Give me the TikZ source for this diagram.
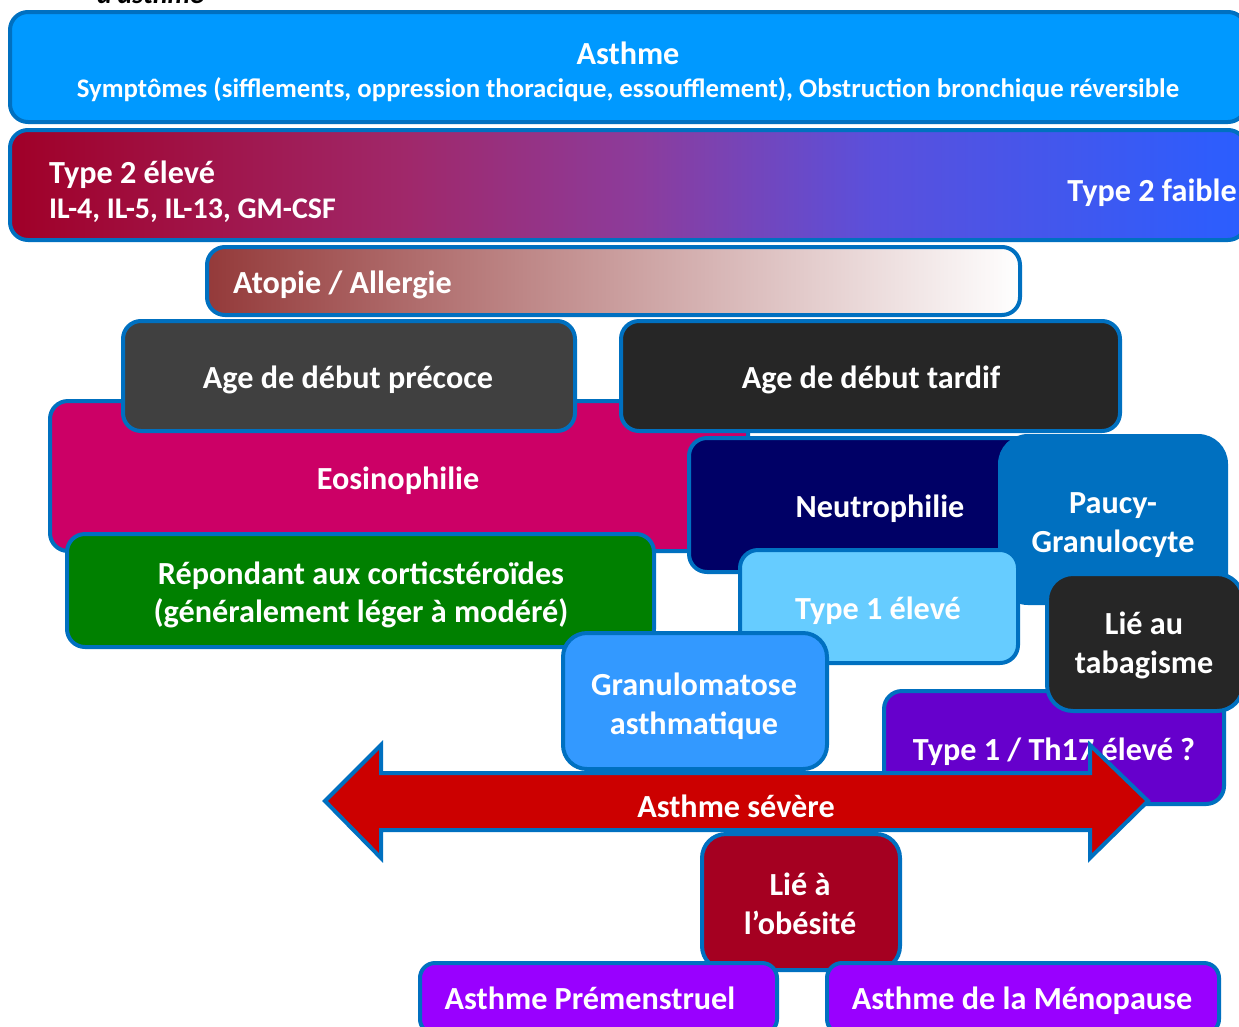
\documentclass[tikz,border=0pt]{standalone}
\usepackage{fontspec}
\setmainfont{Carlito}
\definecolor{bordc}{HTML}{0070C0}
\definecolor{casthme}{HTML}{0099FF}
\definecolor{tIIa}{HTML}{A00028}
\definecolor{tIIb}{HTML}{A0286A}
\definecolor{tIIc}{HTML}{8C3C9C}
\definecolor{tIId}{HTML}{5A50DC}
\definecolor{tIIe}{HTML}{2A5EFF}
\definecolor{atopa}{HTML}{943A3A}
\definecolor{cprecoce}{HTML}{404040}
\definecolor{ctardif}{HTML}{262626}
\definecolor{ceos}{HTML}{CC0066}
\definecolor{cneutro}{HTML}{000066}
\definecolor{cpaucy}{HTML}{0070C0}
\definecolor{crepond}{HTML}{008000}
\definecolor{ctypeI}{HTML}{66CCFF}
\definecolor{ctabac}{HTML}{262626}
\definecolor{cgranulo}{HTML}{3399FF}
\definecolor{cthxvii}{HTML}{6600CC}
\definecolor{carrow}{HTML}{CC0000}
\definecolor{cobes}{HTML}{A50021}
\definecolor{cviolet}{HTML}{9900FF}
\pgfdeclarehorizontalshading{typeIIshade}{100bp}{color(0bp)=(tIIa); color(25bp)=(tIIa); color(41bp)=(tIIb); color(50.5bp)=(tIIc); color(60bp)=(tIId); color(75bp)=(tIIe); color(100bp)=(tIIe)}
\begin{document}
\begin{tikzpicture}[x=1pt,y=-1pt,
  boxst/.style={draw=bordc, line width=4pt, rounded corners=18pt, inner sep=0pt},
  lbl/.style={text=white, inner sep=0pt, anchor=base, font=\bfseries\fontsize{32.2}{39}\selectfont},
  arrowst/.style={draw=bordc, line width=4pt, line join=miter, fill=carrow}]
\useasboundingbox (0,0) rectangle (1239,1026);
\node[inner sep=0pt, anchor=base west, font=\bfseries\itshape\fontsize{28}{32}\selectfont] (ttop) at (97,3) {d’asthme};
% Asthme
\node[boxst, fill=casthme, minimum width=1236pt, minimum height=110pt] (asthme) at (628,67) {};
\node[lbl] (tasthme) at (628,64) {Asthme};
\node[lbl, font=\bfseries\fontsize{26.8}{30}\selectfont] (tsympt) at (628,97) {Symptômes (sifflements, oppression thoracique, essoufflement), Obstruction bronchique réversible};
% Type 2
\node[boxst, shading=typeIIshade, shading angle=0, minimum width=1236pt, minimum height=110pt] (typeII) at (628,185) {};
\node[lbl, anchor=base west] (ttIIe) at (49,183) {Type 2 élevé};
\node[lbl, anchor=base west, font=\bfseries\fontsize{30}{34}\selectfont] (til) at (49,218) {IL-4, IL-5, IL-13, GM-CSF};
\node[lbl, anchor=base east] (ttIIf) at (1237,201) {Type 2 faible};
% Atopie
\node[boxst, left color=atopa, right color=white, minimum width=813pt, minimum height=68pt] (atopie) at (613.5,281) {};
\node[lbl, anchor=base west] (tatopie) at (233,293) {Atopie / Allergie};
% Eosinophilie
\node[boxst, fill=ceos, minimum width=698pt, minimum height=150pt] (eos) at (399,476) {};
\node[lbl] (teos) at (398,489) {Eosinophilie};
% Age precoce / tardif
\node[boxst, fill=cprecoce, minimum width=452pt, minimum height=110pt] (precoce) at (349,376) {};
\node[lbl] (tprecoce) at (348,388) {Age de début précoce};
\node[boxst, fill=ctardif, minimum width=499pt, minimum height=110pt] (tardif) at (870.5,376) {};
\node[lbl] (ttardif) at (871,388) {Age de début tardif};
% Neutrophilie
\node[boxst, fill=cneutro, minimum width=379pt, minimum height=134pt] (neutro) at (878.5,505) {};
\node[lbl] (tneutro) at (880,517) {Neutrophilie};
% Paucy
\node[boxst, fill=cpaucy, rounded corners=28pt, minimum width=226pt, minimum height=167pt] (paucy) at (1113,519.5) {};
\node[lbl] (tpaucya) at (1113,513) {Paucy-};
\node[lbl] (tpaucyb) at (1113,552) {Granulocyte};
% Repondant
\node[boxst, fill=crepond, minimum width=587pt, minimum height=113pt] (repond) at (360.5,590.5) {};
\node[lbl] (trepa) at (361,584) {Répondant aux corticstéroïdes};
\node[lbl] (trepb) at (361,622) {(généralement léger à modéré)};
% Type 1
\node[boxst, fill=ctypeI, minimum width=278pt, minimum height=113pt] (typeI) at (879,606.5) {};
\node[lbl] (ttypeI) at (878,619) {Type 1 élevé};
% Th17
\node[boxst, fill=cthxvii, minimum width=340pt, minimum height=113pt] (thxvii) at (1054,747.5) {};
\node[lbl] (tthxvii) at (1054,760) {Type 1 / Th17 élevé ?};
% Tabac
\node[boxst, fill=ctabac, rounded corners=26pt, minimum width=196pt, minimum height=137pt] (tabac) at (1145,642.5) {};
\node[lbl] (ttaba) at (1144,634) {Lié au};
\node[lbl] (ttabb) at (1144,673) {tabagisme};
% Granulomatose
\node[boxst, fill=cgranulo, rounded corners=24pt, minimum width=264pt, minimum height=136pt] (granulo) at (695,701) {};
\node[lbl] (tgrana) at (694,695) {Granulomatose};
\node[lbl] (tgranb) at (694,734) {asthmatique};
% Obesite
\node[boxst, fill=cobes, rounded corners=24pt, minimum width=198pt, minimum height=136pt] (obes) at (801,902) {};
\node[lbl] (tobesa) at (800,895) {Lié à};
\node[lbl] (tobesb) at (800,934) {l’obésité};
% Arrow
\coordinate (atipl) at (325,801);
\coordinate (atipr) at (1148,801);
\draw[arrowst] (atipl) -- (381,745) -- (381,773) -- (1090,773) -- (1090,745) -- (atipr)
  -- (1090,858) -- (1090,830) -- (381,830) -- (381,858) -- cycle;
\node[lbl] (tsevere) at (736,817) {Asthme sévère};
% Premenstruel / Menopause
\node[boxst, fill=cviolet, rounded corners=15pt, minimum width=357pt, minimum height=71pt] (premen) at (598.5,998.5) {};
\node[lbl] (tpremen) at (590,1009) {Asthme Prémenstruel};
\node[boxst, fill=cviolet, rounded corners=15pt, minimum width=392pt, minimum height=71pt] (meno) at (1023,998.5) {};
\node[lbl] (tmeno) at (1022,1009) {Asthme de la Ménopause};
\end{tikzpicture}
\end{document}
